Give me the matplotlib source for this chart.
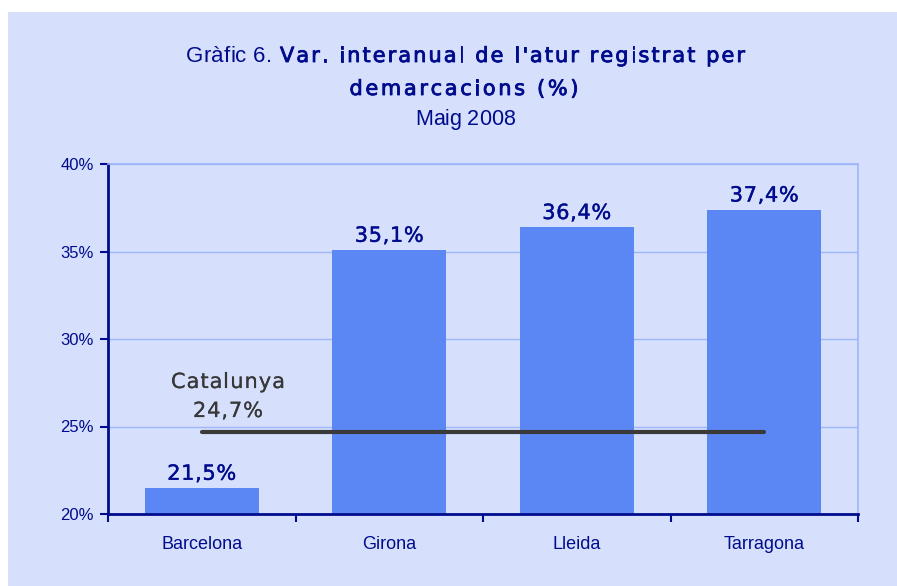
import matplotlib
matplotlib.use("Agg")
import matplotlib.pyplot as plt
import matplotlib.patheffects as pe
from matplotlib.patches import Rectangle
from matplotlib.font_manager import FontProperties, findfont, get_font

categories = ["Barcelona", "Girona", "Lleida", "Tarragona"]
values = [21.5, 35.1, 36.4, 37.4]
value_labels = ["21,5%", "35,1%", "36,4%", "37,4%"]
catalunya = 24.7
catalunya_name = "Catalunya"
catalunya_text = "24,7%"
yticks = [20, 25, 30, 35, 40]
ytick_labels = ["20%", "25%", "30%", "35%", "40%"]

W, H = 897, 586
DPI = 100
bg = "#D6E0FC"
bar_color = "#5B87F5"
navy = "#000C8C"
grid_color = "#9DB5FA"

fig = plt.figure(figsize=(W / DPI, H / DPI), dpi=DPI)
fig.patch.set_facecolor("white")
fig.patches.append(Rectangle((8 / W, 0), 1 - 8 / W, 1 - 12 / H, transform=fig.transFigure,
                             facecolor=bg, edgecolor="none", zorder=-10))


def glyph_advances(s, family, size):
    font = get_font(findfont(FontProperties(family=family)))
    font.set_size(size, DPI)
    return [font.load_char(ord(c)).linearHoriAdvance / 65536.0 for c in s]


def tracked(s, x_px, y_px, size, family, color, ha="center", width=None, stroke=0.0):
    """Letter-spaced text; x_px, y_px are figure pixels from the top-left, y is the baseline."""
    adv = glyph_advances(s, family, size)
    natural = sum(adv)
    track = 0.0 if width is None else (width - natural) / (len(s) - 1)
    total = natural + track * (len(s) - 1)
    x0 = {"center": x_px - total / 2, "left": x_px, "right": x_px - total}[ha]
    effects = [pe.withStroke(linewidth=stroke, foreground=color)] if stroke > 0 else None
    cx = x0
    for c, a in zip(s, adv):
        if c != " ":
            fig.text(cx / W, 1 - y_px / H, c, fontsize=size, family=family, color=color,
                     ha="left", va="baseline", path_effects=effects)
        cx += a + track


ax = fig.add_axes([108 / W, 1 - 514 / H, 750 / W, 350 / H])
ax.set_facecolor(bg)
ax.set_xlim(-0.5, 3.5)
ax.set_ylim(20, 40)

x = list(range(len(categories)))
ax.bar(x, [v - 20 for v in values], bottom=20, width=0.61, color=bar_color, zorder=2)

ax.set_yticks(yticks)
ax.set_yticklabels(ytick_labels, family="Liberation Sans", fontsize=12, color=navy)
ax.yaxis.grid(True, color=grid_color, linewidth=1, zorder=1)
ax.set_axisbelow(True)

ax.set_xticks([-0.5, 0.5, 1.5, 2.5, 3.5])
ax.set_xticklabels([])
ax.set_xticks(x, minor=True)
ax.set_xticklabels(categories, minor=True, family="Liberation Sans", fontsize=13, color=navy)
ax.tick_params(axis="x", which="minor", length=0, pad=16)
ax.tick_params(axis="x", which="major", length=6, width=1.5, color=navy, direction="out")
ax.tick_params(axis="y", length=6, width=1.5, color=navy, direction="out", pad=4)

for s in ["left", "bottom"]:
    ax.spines[s].set_color(navy)
    ax.spines[s].set_linewidth(2)
for s in ["top", "right"]:
    ax.spines[s].set_color(grid_color)
    ax.spines[s].set_linewidth(1.2)

ax.plot([0, 3], [catalunya, catalunya], color="#3A3A3A", linewidth=3, solid_capstyle="round", zorder=3)

fig.canvas.draw()


def data_to_px(xd, yd):
    px, py = ax.transData.transform((xd, yd))
    return px, H - py


# value labels above bars
for xi, v, lab in zip(x, values, value_labels):
    px, py = data_to_px(xi, v)
    tracked(lab, px, py - 8, 15, "DejaVu Sans", navy, width=69, stroke=0.3)

# Catalunya annotation
tracked(catalunya_name, 228, 388, 15, "DejaVu Sans", "#383838", width=114, stroke=0.15)
tracked(catalunya_text, 228, 417, 15, "DejaVu Sans", "#383838", width=70, stroke=0.15)

# Titles
tracked("Gràfic 6.", 186, 62, 16, "Liberation Sans", navy, ha="left", width=86)
tracked("Var. interanual de l'atur registrat per", 280, 62, 15, "DejaVu Sans", navy,
        ha="left", width=465, stroke=0.6)
tracked("demarcacions (%)", 464, 95, 15, "DejaVu Sans", navy, width=229, stroke=0.6)
tracked("Maig 2008", 465, 125, 15.5, "Liberation Sans", navy, width=100)

fig.savefig("out.png", dpi=DPI, facecolor=fig.get_facecolor())
